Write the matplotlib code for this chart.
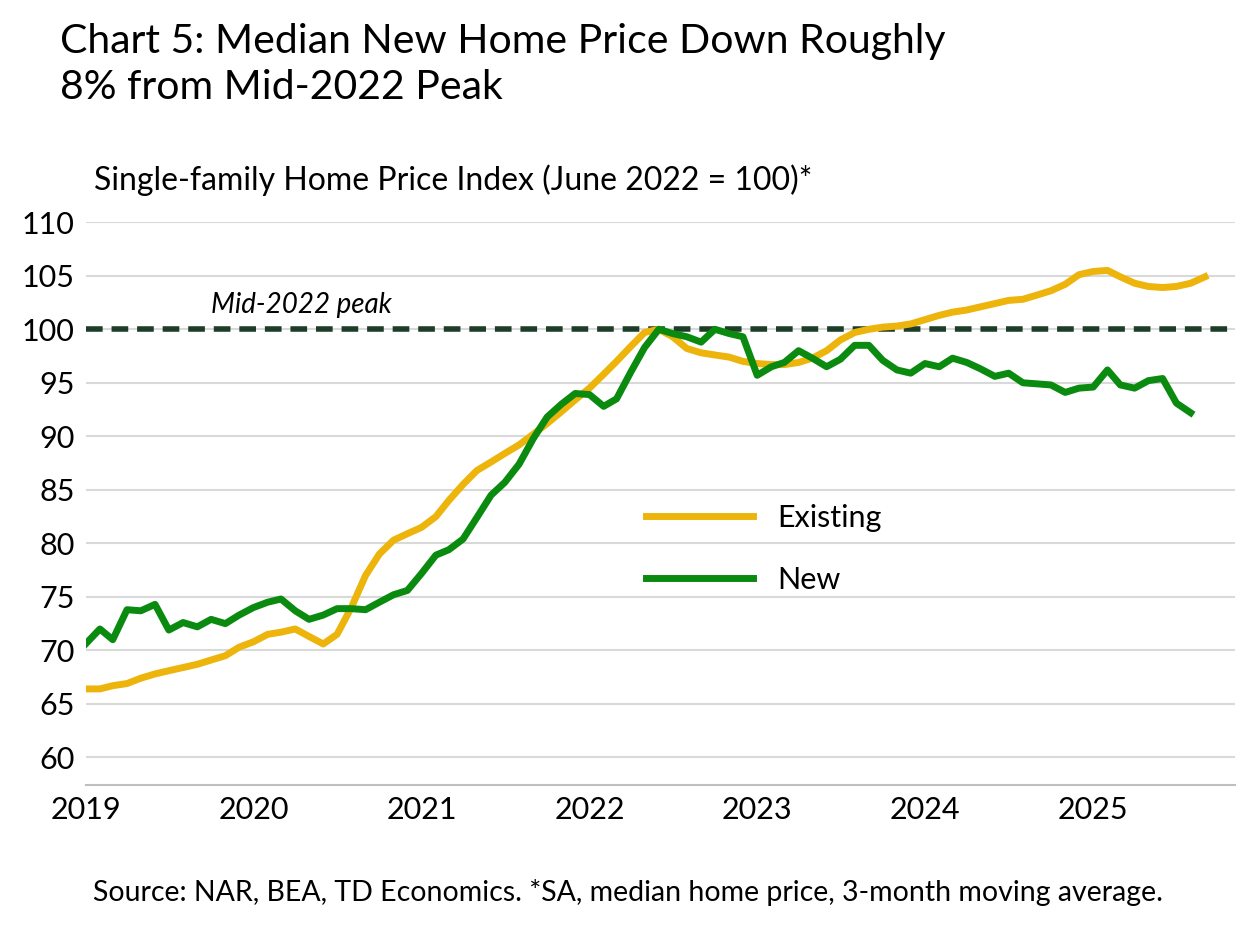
import matplotlib
matplotlib.use("Agg")
import matplotlib.pyplot as plt
import numpy as np
import pandas as pd

existing = [66.4,66.4,66.7,66.9,67.4,67.8,68.1,68.4,68.7,69.1,69.5,70.3,
            70.8,71.5,71.7,72.0,71.3,70.6,71.5,74.0,77.0,79.0,80.3,80.9,
            81.5,82.5,84.0,85.5,86.8,87.6,88.4,89.2,90.2,91.2,92.3,93.4,
            94.5,95.8,97.0,98.4,99.7,100.0,99.3,98.2,97.8,97.6,97.4,97.0,
            96.8,96.7,96.7,96.9,97.3,98.0,99.0,99.7,100.0,100.2,100.3,100.5,
            100.9,101.3,101.6,101.8,102.1,102.4,102.7,102.8,103.2,103.6,104.2,105.1,
            105.4,105.5,104.9,104.3,104.0,103.9,104.0,104.3,104.9]
new = [70.6,72.0,71.0,73.8,73.7,74.3,71.9,72.6,72.2,72.9,72.5,73.3,
       74.0,74.5,74.8,73.7,72.9,73.3,73.9,73.9,73.8,74.5,75.2,75.6,
       77.2,78.9,79.4,80.4,82.4,84.5,85.7,87.4,89.8,91.8,93.0,94.0,
       93.9,92.8,93.5,96.0,98.3,100.0,99.6,99.3,98.8,100.0,99.6,99.3,
       95.7,96.5,96.9,98.0,97.3,96.5,97.2,98.5,98.5,97.1,96.2,95.9,
       96.8,96.5,97.3,96.9,96.3,95.6,95.9,95.0,94.9,94.8,94.1,94.5,
       94.6,96.2,94.8,94.5,95.2,95.4,93.1,92.2]
peak = 100
years = [2019, 2020, 2021, 2022, 2023, 2024, 2025]

plt.rcParams['font.family'] = ['Lato', 'DejaVu Sans']
dx_e = pd.date_range("2019-01-01", periods=len(existing), freq="MS")
dx_n = pd.date_range("2019-01-01", periods=len(new), freq="MS")

fig = plt.figure(figsize=(12.41, 9.26), dpi=100)
ax = fig.add_axes([0.069, 0.152, 0.926, 0.608])
ax.axhline(peak, color='#1E3D28', lw=4, ls=(0, (3, 1.6)), zorder=2)
ax.plot(dx_e, existing, color='#EDB40C', lw=5, label='Existing', zorder=3)
ax.plot(dx_n, new, color='#0B8A10', lw=5, label='New', zorder=4)
ax.set_ylim(57.4, 110)
ax.set_yticks(range(60, 111, 5))
ax.set_xlim(pd.Timestamp("2019-01-01"), pd.Timestamp("2025-11-05"))
ax.set_xticks([pd.Timestamp(f"{y}-01-01") for y in years])
ax.set_xticklabels([str(y) for y in years])
ax.grid(axis='y', color='#D9D9D9', lw=1.5)
ax.set_axisbelow(True)
for s in ['top', 'right', 'left']:
    ax.spines[s].set_visible(False)
ax.spines['bottom'].set_color('#BFBFBF')
ax.spines['bottom'].set_linewidth(1.5)
ax.tick_params(axis='both', length=0, labelsize=22, pad=8)
ax.text(pd.Timestamp("2019-10-01"), 101.5, "Mid-2022 peak", fontsize=20, style='italic')
ax.legend(loc='center', bbox_to_anchor=(0.59, 0.42), frameon=False, fontsize=22,
          handlelength=3.5, labelspacing=1.1)
fig.text(0.048, 0.975, "Chart 5: Median New Home Price Down Roughly\n8% from Mid-2022 Peak",
         fontsize=29.5, va='top', linespacing=1.3)
fig.text(0.076, 0.795, "Single-family Home Price Index (June 2022 = 100)*", fontsize=23)
fig.text(0.075, 0.022, "Source: NAR, BEA, TD Economics. *SA, median home price, 3-month moving average.",
         fontsize=20.5, va='bottom')
fig.savefig("out.png", dpi=100)
